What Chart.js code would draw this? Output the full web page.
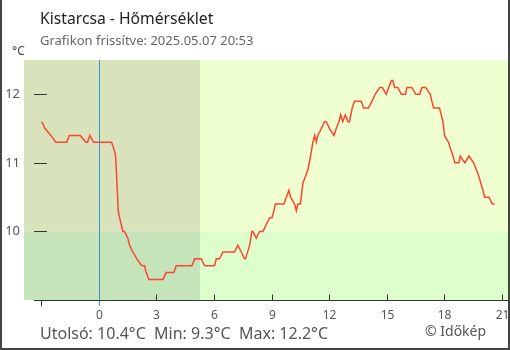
<!DOCTYPE html>
<html>
<head>
<meta charset="utf-8">
<script src="https://cdn.jsdelivr.net/npm/chart.js@4/dist/chart.umd.min.js"></script>
<style>
  html, body { margin: 0; padding: 0; background: #fff; }
  #wrap { width: 510px; height: 350px; position: relative; }
</style>
</head>
<body>
<div id="wrap"><canvas id="c" width="510" height="350"></canvas></div>
<script>
// Hours relative to midnight (negative = previous evening)
const hours = [
  -2.97, -2.81, -2.50, -2.24, -1.67, -1.54, -0.97, -0.68, -0.59, -0.47,
  -0.28, 0.66, 0.79, 0.87, 0.91, 0.96, 1.01, 1.08, 1.17, 1.25,
  1.34, 1.51, 1.60, 1.77, 1.98, 2.24, 2.38, 2.47, 2.61, 3.34,
  3.51, 3.91, 4.03, 4.85, 4.99, 5.34, 5.51, 6.03, 6.12, 6.29,
  6.46, 7.07, 7.24, 7.42, 7.59, 7.64, 7.86, 7.97, 8.03, 8.20,
  8.37, 8.55, 8.72, 8.90, 9.02, 9.12, 9.19, 9.64, 9.77, 9.90,
  9.99, 10.20, 10.29, 10.37, 10.50, 10.63, 10.76, 10.89, 11.03, 11.15,
  11.24, 11.33, 11.41, 11.59, 11.76, 11.85, 12.02, 12.25, 12.37, 12.51,
  12.60, 12.71, 12.84, 12.98, 13.06, 13.20, 13.32, 13.67, 13.79, 14.05,
  14.23, 14.40, 14.63, 14.77, 14.97, 15.24, 15.32, 15.41, 15.58, 15.76,
  15.98, 16.05, 16.31, 16.51, 16.72, 16.83, 17.02, 17.27, 17.35, 17.44,
  17.75, 17.84, 17.93, 18.01, 18.22, 18.33, 18.45, 18.55, 18.76, 18.83,
  19.07, 19.28, 19.53, 19.67, 19.80, 20.01, 20.10, 20.32, 20.50, 20.62
];
// Temperature readings, °C
const temps = [
  11.6, 11.5, 11.4, 11.3, 11.3, 11.4, 11.4, 11.3, 11.3, 11.4,
  11.3, 11.3, 11.2, 11.1, 10.9, 10.6, 10.3, 10.2, 10.1, 10.0,
  10.0, 9.9, 9.8, 9.7, 9.6, 9.5, 9.5, 9.4, 9.3, 9.3,
  9.4, 9.4, 9.5, 9.5, 9.6, 9.6, 9.5, 9.5, 9.6, 9.6,
  9.7, 9.7, 9.8, 9.7, 9.6, 9.6, 9.8, 10.0, 10.0, 9.9,
  10.0, 10.0, 10.1, 10.2, 10.2, 10.3, 10.4, 10.4, 10.5, 10.6,
  10.5, 10.4, 10.3, 10.4, 10.4, 10.7, 10.8, 10.9, 11.1, 11.3,
  11.4, 11.3, 11.4, 11.5, 11.6, 11.6, 11.5, 11.4, 11.5, 11.6,
  11.7, 11.6, 11.7, 11.6, 11.6, 11.8, 11.9, 11.9, 11.8, 11.8,
  11.9, 12.0, 12.1, 12.1, 12.0, 12.2, 12.2, 12.1, 12.1, 12.0,
  12.0, 12.1, 12.1, 12.0, 12.0, 12.1, 12.1, 12.0, 11.9, 11.8,
  11.8, 11.7, 11.6, 11.4, 11.3, 11.2, 11.1, 11.0, 11.0, 11.1,
  11.0, 11.1, 11.0, 10.9, 10.8, 10.6, 10.5, 10.5, 10.4, 10.4
];
const xTicks = [-3, 0, 3, 6, 9, 12, 15, 18, 21];
const xLabels = ['', '0', '3', '6', '9', '12', '15', '18', '21'];
const yTicks = [10, 11, 12];
const sunrise = 5.27;       // end of the night shading, hours
const coldLimit = 10;       // band split, °C

const title = 'Kistarcsa - Hőmérséklet';
const subtitle = 'Grafikon frissítve: 2025.05.07 20:53';
const unit = '°C';
const stats = 'Utolsó: 10.4°C  Min: 9.3°C  Max: 12.2°C';
const credit = '© Időkép';

const FONT = '"Noto Sans", "Open Sans", sans-serif';

const decor = {
  id: 'decor',
  beforeDatasetsDraw(chart) {
    const { ctx, chartArea: a, scales: { x, y } } = chart;
    const xs = x.getPixelForValue(sunrise);
    const ys = y.getPixelForValue(coldLimit);
    ctx.save();
    // day / night and warm / cold bands
    ctx.fillStyle = '#efffcf'; ctx.fillRect(xs, a.top, a.right - xs, ys - a.top);
    ctx.fillStyle = '#ddffcc'; ctx.fillRect(xs, ys, a.right - xs, a.bottom - ys);
    ctx.fillStyle = '#d8e3bb'; ctx.fillRect(a.left, a.top, xs - a.left, ys - a.top);
    ctx.fillStyle = '#c6e4b9'; ctx.fillRect(a.left, ys, xs - a.left, a.bottom - ys);
    // midnight marker
    const x0 = Math.round(x.getPixelForValue(0)) + 0.5;
    ctx.strokeStyle = '#3a8fd0'; ctx.lineWidth = 1;
    ctx.beginPath(); ctx.moveTo(x0, a.top); ctx.lineTo(x0, a.bottom + 6); ctx.stroke();
    ctx.restore();
  },
  afterDraw(chart) {
    const { ctx, chartArea: a, scales: { x, y } } = chart;
    ctx.save();
    ctx.strokeStyle = '#333'; ctx.lineWidth = 1;
    // x axis line
    const yb = Math.round(a.bottom) + 0.5;
    ctx.beginPath(); ctx.moveTo(34, yb); ctx.lineTo(a.right + 2, yb); ctx.stroke();
    // x ticks and labels
    ctx.fillStyle = '#555'; ctx.font = '12px ' + FONT;
    ctx.textAlign = 'center'; ctx.textBaseline = 'middle';
    xTicks.forEach((t, i) => {
      const px = Math.round(x.getPixelForValue(t)) + 0.5;
      if (t !== 0) {
        ctx.beginPath();
        if (t < 0) { ctx.moveTo(px, yb); ctx.lineTo(px, yb + 6); }
        else { ctx.moveTo(px, yb - 6); ctx.lineTo(px, yb); }
        ctx.stroke();
      }
      if (xLabels[i]) ctx.fillText(xLabels[i], px, 316);
    });
    // y ticks and labels
    ctx.font = '13px ' + FONT; ctx.textAlign = 'right';
    yTicks.forEach(t => {
      const py = Math.round(y.getPixelForValue(t)) + 0.5;
      ctx.beginPath(); ctx.moveTo(34, py); ctx.lineTo(47, py); ctx.stroke();
      ctx.fillText(String(t), 20, py);
    });
    // texts
    ctx.textAlign = 'left'; ctx.textBaseline = 'alphabetic';
    ctx.fillStyle = '#222'; ctx.font = '15.7px ' + FONT;
    ctx.fillText(title, 40, 24);
    ctx.fillStyle = '#666'; ctx.font = '13px ' + FONT;
    ctx.fillText(subtitle, 40, 45);
    ctx.fillStyle = '#444'; ctx.font = '12px ' + FONT;
    ctx.fillText(unit, 12, 55);
    ctx.fillStyle = '#555'; ctx.font = '16px ' + FONT;
    ctx.fillText(stats, 40, 339);
    ctx.font = '14px ' + FONT;
    ctx.fillText(credit, 425, 336);
    // frame (left, bottom, right)
    ctx.strokeStyle = '#444'; ctx.lineWidth = 2;
    ctx.beginPath();
    ctx.moveTo(1, 0); ctx.lineTo(1, chart.height - 1);
    ctx.lineTo(chart.width - 1, chart.height - 1); ctx.lineTo(chart.width - 1, 0);
    ctx.stroke();
    ctx.restore();
  }
};

new Chart(document.getElementById('c'), {
  type: 'line',
  data: {
    datasets: [{
      data: hours.map((h, i) => ({ x: h, y: temps[i] })),
      borderColor: '#ff4433',
      borderWidth: 1.5,
      pointRadius: 0,
      tension: 0,
      fill: false
    }]
  },
  options: {
    responsive: false,
    animation: false,
    devicePixelRatio: 1,
    layout: { padding: { left: 24, top: 60, right: 1, bottom: 50 } },
    scales: {
      x: { type: 'linear', min: -3.9, max: 21.37, display: false },
      y: { type: 'linear', min: 9, max: 12.5, display: false }
    },
    plugins: { legend: { display: false }, tooltip: { enabled: false } }
  },
  plugins: [decor]
});
</script>
</body>
</html>
